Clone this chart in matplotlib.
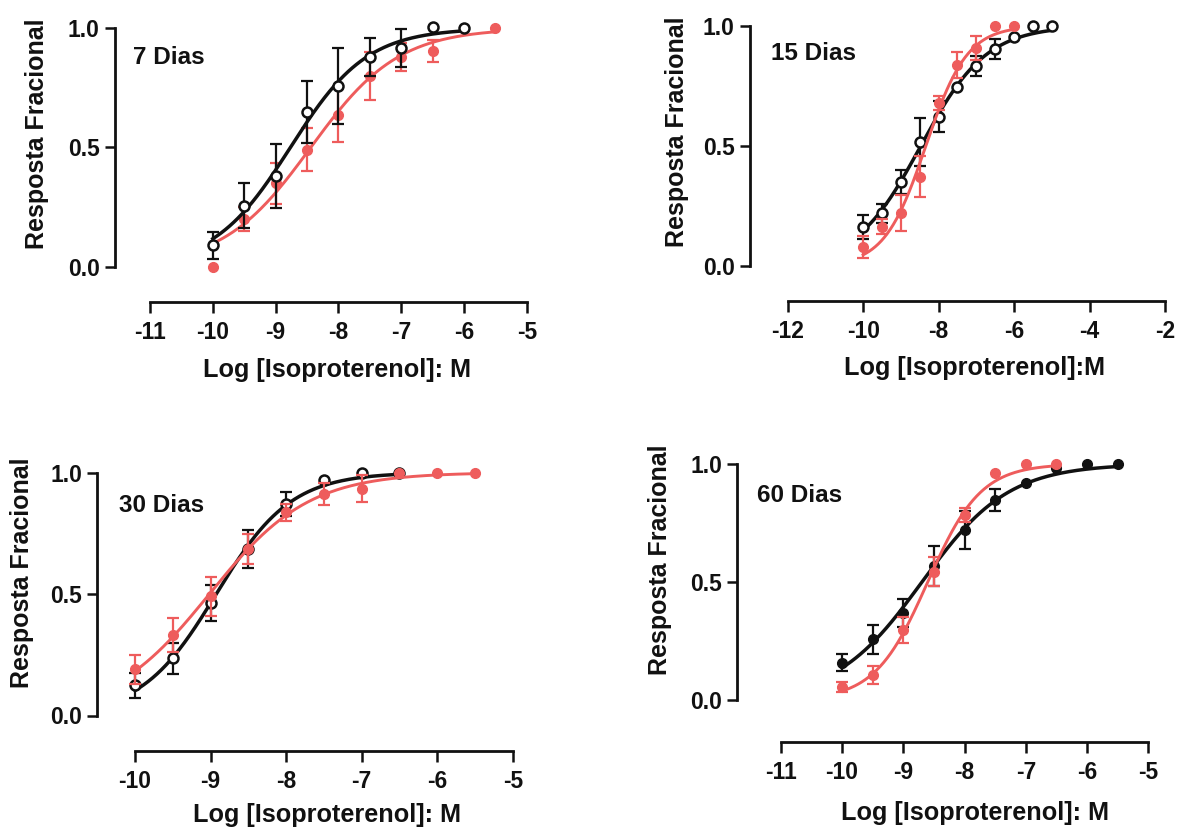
import numpy as np
import matplotlib
matplotlib.use("Agg")
import matplotlib.pyplot as plt

plt.rcParams['font.family'] = ['Liberation Sans', 'DejaVu Sans']
plt.rcParams['font.weight'] = 'bold'

W, H = 1179, 834
RED = '#ee5c5c'
BLK = '#111111'

# ---------------- data ----------------
titles = ['7 Dias', '15 Dias', '30 Dias', '60 Dias']
xlabels = ['Log [Isoproterenol]: M', 'Log [Isoproterenol]:M',
           'Log [Isoproterenol]: M', 'Log [Isoproterenol]: M']
ylabel = 'Resposta Fracional'
xticks_list = [[-11, -10, -9, -8, -7, -6, -5],
               [-12, -10, -8, -6, -4, -2],
               [-10, -9, -8, -7, -6, -5],
               [-11, -10, -9, -8, -7, -6, -5]]
yticks = [0.0, 0.5, 1.0]
ytick_labels = ['0.0', '0.5', '1.0']

# 7 dias
x7_blk = [-10, -9.5, -9, -8.5, -8, -7.5, -7, -6.5, -6]
y7_blk = [0.089, 0.256, 0.38, 0.647, 0.757, 0.88, 0.918, 1.005, 1.0]
e7_blk = [0.055, 0.094, 0.134, 0.13, 0.16, 0.08, 0.08, 0, 0]
x7_red = [-10, -9.5, -9, -8.5, -8, -7.5, -7, -6.5, -5.5]
y7_red = [0.0, 0.2, 0.35, 0.49, 0.636, 0.8, 0.88, 0.905, 1.0]
e7_red = [0, 0.05, 0.085, 0.09, 0.115, 0.1, 0.06, 0.045, 0]

# 15 dias
x15_blk = [-10, -9.5, -9, -8.5, -8, -7.5, -7, -6.5, -6, -5.5, -5]
y15_blk = [0.164, 0.22, 0.351, 0.518, 0.622, 0.745, 0.833, 0.904, 0.953, 1.0, 1.0]
e15_blk = [0.05, 0.04, 0.05, 0.1, 0.065, 0, 0.04, 0.04, 0, 0, 0]
x15_red = [-10, -9.5, -9, -8.5, -8, -7.5, -7, -6.5, -6]
y15_red = [0.078, 0.164, 0.22, 0.372, 0.678, 0.837, 0.907, 1.0, 1.0]
e15_red = [0.045, 0.03, 0.075, 0.085, 0.03, 0.055, 0.05, 0, 0]

# 30 dias
x30_blk = [-10, -9.5, -9, -8.5, -8, -7.5, -7, -6.5]
y30_blk = [0.124, 0.235, 0.463, 0.685, 0.871, 0.968, 1.0, 1.0]
e30_blk = [0.05, 0.065, 0.075, 0.08, 0.05, 0, 0, 0]
x30_red = [-10, -9.5, -9, -8.5, -8, -7.5, -7, -6.5, -6, -5.5]
y30_red = [0.19, 0.332, 0.49, 0.685, 0.837, 0.913, 0.934, 0.996, 1.0, 1.0]
e30_red = [0.06, 0.07, 0.08, 0.06, 0.035, 0.045, 0.055, 0, 0, 0]

# 60 dias
x60_blk = [-10, -9.5, -9, -8.5, -8, -7.5, -7, -6.5, -6, -5.5]
y60_blk = [0.158, 0.257, 0.37, 0.568, 0.72, 0.847, 0.918, 0.982, 1.0, 1.0]
e60_blk = [0.037, 0.06, 0.06, 0.085, 0.08, 0.047, 0, 0, 0, 0]
x60_red = [-10, -9.5, -9, -8.5, -8, -7.5, -7, -6.5]
y60_red = [0.056, 0.106, 0.297, 0.544, 0.784, 0.96, 1.0, 1.0]
e60_red = [0.02, 0.04, 0.055, 0.06, 0.03, 0, 0, 0]

series = [
    ((x7_blk, y7_blk, e7_blk), (x7_red, y7_red, e7_red)),
    ((x15_blk, y15_blk, e15_blk), (x15_red, y15_red, e15_red)),
    ((x30_blk, y30_blk, e30_blk), (x30_red, y30_red, e30_red)),
    ((x60_blk, y60_blk, e60_blk), (x60_red, y60_red, e60_red)),
]

# ---------------- layout (pixels) ----------------
# (x_left_px, x_right_px, y0_px, y1_px, yaxis_x_px, xaxis_y_px)
geom = [
    (150.0, 526.7, 266.7, 28.3, 115.0, 301.7),
    (787.7, 1165.0, 266.0, 26.0, 750.0, 300.7),
    (135.0, 512.7, 715.5, 472.5, 97.3, 750.7),
    (780.7, 1148.3, 700.0, 464.0, 737.3, 741.7),
]
title_pos = [(133, 58), (771, 54), (119, 505), (757, 495)]
ylabel_pos = [(37, 134), (677, 132), (22, 573), (660, 560)]
xlabel_pos = [(337, 370), (975, 368), (327, 815), (975, 813)]
black_open = [True, True, True, False]
red_on_top = [False, True, True, True]


def fit_logistic(x, y):
    """Least-squares fit of a normalised (0..1) sigmoid: logEC50 and slope."""
    x = np.asarray(x, float)
    y = np.asarray(y, float)
    ec = np.arange(-10.5, -7.0, 0.005)
    n = np.arange(0.3, 2.0, 0.005)
    E, N = np.meshgrid(ec, n, indexing='ij')
    F = 1.0 / (1.0 + 10 ** ((E[..., None] - x) * N[..., None]))
    sse = ((F - y) ** 2).sum(-1)
    i, j = np.unravel_index(np.argmin(sse), sse.shape)
    return ec[i], n[j]


def draw_series(ax, x, y, e, color, open_marker, z):
    x = np.asarray(x, float)
    y = np.asarray(y, float)
    e = np.asarray(e, float)
    ec, n = fit_logistic(x, y)
    xs = np.linspace(x.min(), x.max(), 300)
    ys = 1.0 / (1.0 + 10 ** ((ec - xs) * n))
    lw = 2.5 if color == BLK else 2.1
    ax.plot(xs, ys, color=color, lw=lw, zorder=z, clip_on=False)
    m = e > 0
    ax.errorbar(x[m], y[m], yerr=e[m], fmt='none', ecolor=color,
                elinewidth=1.6, capsize=4, capthick=1.6, zorder=z + 0.1,
                clip_on=False)
    if open_marker:
        ax.plot(x, y, 'o', ms=7.2, mfc='white', mec=color, mew=1.8,
                zorder=z + 0.2, clip_on=False)
    else:
        ax.plot(x, y, 'o', ms=7.0, mfc=color, mec=color, mew=1.0,
                zorder=z + 0.2, clip_on=False)


fig = plt.figure(figsize=(W / 100, H / 100), dpi=100)
fig.patch.set_facecolor('white')

for k in range(4):
    xl, xr, y0, y1, yax, xax = geom[k]
    ax = fig.add_axes([xl / W, 1 - y0 / H, (xr - xl) / W, (y0 - y1) / H])
    ticks = xticks_list[k]
    ax.set_xlim(ticks[0], ticks[-1])
    ax.set_ylim(0, 1)
    ax.patch.set_alpha(0)
    for s in ['top', 'right']:
        ax.spines[s].set_visible(False)
    ax.spines['left'].set_position(('outward', (xl - yax) * 0.72))
    ax.spines['bottom'].set_position(('outward', (xax - y0) * 0.72))
    for s in ['left', 'bottom']:
        ax.spines[s].set_linewidth(2.0)
        ax.spines[s].set_color(BLK)
    ax.set_xticks(ticks)
    ax.set_xticklabels([str(t) for t in ticks])
    ax.set_yticks(yticks)
    ax.set_yticklabels(ytick_labels)
    ax.tick_params(axis='x', length=8, width=1.8, pad=6, labelsize=16.5,
                   colors=BLK)
    ax.tick_params(axis='y', length=7, width=1.8, pad=4, labelsize=16.5,
                   colors=BLK)
    for lab in ax.get_xticklabels() + ax.get_yticklabels():
        lab.set_fontweight('bold')

    blk, red = series[k]
    zb, zr = (3, 4) if red_on_top[k] else (4, 3)
    draw_series(ax, *blk, BLK, black_open[k], zb)
    draw_series(ax, *red, RED, False, zr)

    ax.set_xlabel(xlabels[k], fontsize=18.2, fontweight='bold', color=BLK)
    ax.xaxis.label.set_va('center')
    ax.xaxis.set_label_coords(xlabel_pos[k][0] / W, 1 - xlabel_pos[k][1] / H,
                              transform=fig.transFigure)
    ax.set_ylabel(ylabel, fontsize=18, fontweight='bold', color=BLK)
    ax.yaxis.label.set_va('center')
    ax.yaxis.set_label_coords(ylabel_pos[k][0] / W, 1 - ylabel_pos[k][1] / H,
                              transform=fig.transFigure)
    ax.text(title_pos[k][0] / W, 1 - title_pos[k][1] / H, titles[k],
            transform=fig.transFigure, fontsize=17.5, fontweight='bold',
            ha='left', va='center', color=BLK)

fig.savefig('out.png', dpi=100, facecolor='white')
